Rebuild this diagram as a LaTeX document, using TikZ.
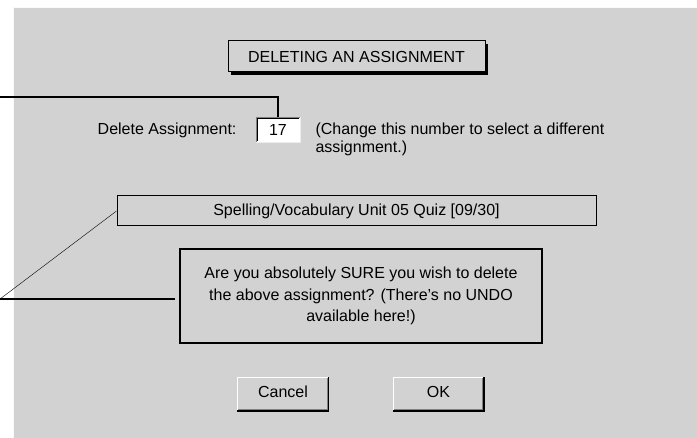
\documentclass[tikz,border=0pt]{standalone}
\usepackage{fontspec}
\setmainfont{Liberation Sans}
\usetikzlibrary{calc}

\definecolor{panel}{RGB}{210,210,210}
\definecolor{edgedark}{RGB}{128,128,128}

\tikzset{
  winbox/.style={draw, line width=1pt, fill=panel, inner sep=0pt},
  btnbox/.style={fill=panel, inner sep=0pt, minimum height=34pt, text height=1.5ex, text depth=.25ex},
  numbox/.style={fill=white, inner sep=0pt, minimum width=44pt, minimum height=25pt},
  callout/.style={line width=2pt}
}

\begin{document}
\begin{tikzpicture}[x=1pt, y=-1pt, font=\fontsize{16}{18}\selectfont]
  \useasboundingbox (0,0) rectangle (697,438);
  \fill[white] (0,0) rectangle (697,438);
  \fill[panel] (13,7) rectangle (697,438);
  \draw[white!90!panel] (13.5,438) -- (13.5,7.5) -- (697,7.5);

  % title with its shadow
  \fill (231,44) rectangle (488,75);
  \node[winbox, minimum width=257pt, minimum height=31pt] (title) at (356.5,56.5) {DELETING AN ASSIGNMENT};

  \node[anchor=east] (dlabel) at (240,130) {Delete Assignment:};
  \node[numbox] (num) at (278,129.5) {17};
  \draw[edgedark] (num.south west) |- (num.north east);
  \draw ([shift={(1,-1)}]num.south west) |- ([shift={(-1,1)}]num.north east);
  \draw[white!60!panel] (num.south west) -| (num.north east);
  \node[anchor=west, align=left] (hint) at (312,139)
    {(Change this number to select a different\\assignment.)};

  \node[winbox, minimum width=479pt, minimum height=30pt] (spell) at (356.5,211)
    {Spelling/Vocabulary Unit 05 Quiz [09/30]};

  \node[winbox, line width=2pt, minimum width=362pt, minimum height=94pt, align=center,
    font=\fontsize{16}{21.5}\selectfont] (msg) at (361,296)
    {Are you absolutely SURE you wish to delete\\the above assignment? (There's no UNDO\\available here!)};

  % buttons
  \foreach \nm/\cx/\txt in {cancel/283/Cancel, ok/438.5/OK} {
    \node[btnbox, minimum width=91pt] (\nm) at (\cx,394) {\txt};
    \draw[white] (\nm.south west) |- (\nm.north east);
    \draw[line width=1.5pt] (\nm.south west) -| (\nm.north east);
    \draw[edgedark] ([shift={(1,-2)}]\nm.south west) -| ([shift={(-2,1)}]\nm.north east);
  }

  % callouts
  \coordinate (c1) at (0,97);
  \draw[callout] (c1) -| (num.north);
  \coordinate (c2) at (0,299);
  \draw[callout, shorten >=4pt] (c2) -- (c2 -| msg.west);
  \draw (c2) -- (spell.west);
\end{tikzpicture}
\end{document}
